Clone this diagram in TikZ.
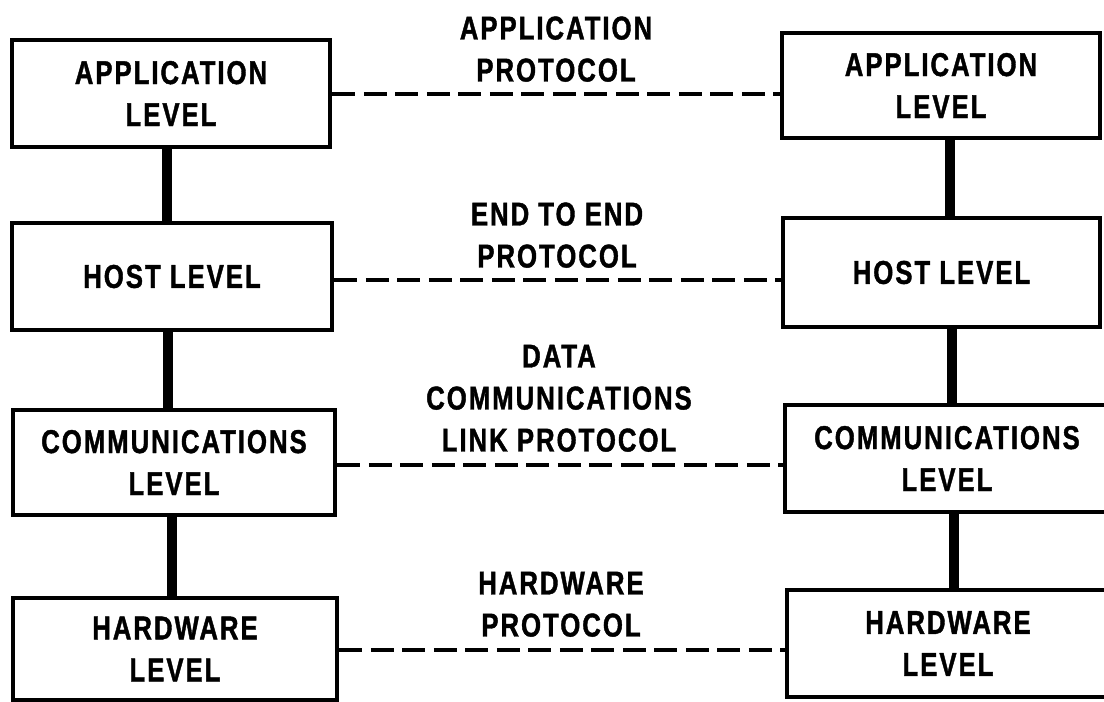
\documentclass[tikz,border=0pt]{standalone}
\usepackage{fontspec}
\newfontfamily\lblfont{Liberation Sans}[FakeStretch=0.78,LetterSpace=6,FakeBold=1.2]
\usetikzlibrary{calc}

\tikzset{
  levelbox/.style={draw=black, line width=4.5pt, fill=white, inner sep=0pt,
    align=center, font=\lblfont\bfseries\fontsize{33}{42}\selectfont},
  protolabel/.style={inner sep=0pt, align=center, anchor=south,
    font=\lblfont\bfseries\fontsize{33}{42}\selectfont},
  stack/.style={line width=10pt},
  peer/.style={line width=4pt, dash pattern=on 23pt off 8.5pt}
}

\begin{document}
\begin{tikzpicture}[x=1pt, y=-1pt]
  \useasboundingbox[fill=white] (0,0) rectangle (1104,702);

  % left protocol stack
  \node[levelbox, minimum width=318, minimum height=107] (L1) at (171,93.5) {APPLICATION\\LEVEL};
  \node[levelbox, minimum width=320, minimum height=107] (L2) at (172,276.5) {HOST LEVEL};
  \node[levelbox, minimum width=322, minimum height=105] (L3) at (174,462.5) {COMMUNICATIONS\\LEVEL};
  \node[levelbox, minimum width=324, minimum height=102] (L4) at (175,649) {HARDWARE\\LEVEL};

  % right protocol stack
  \node[levelbox, minimum width=318, minimum height=105] (R1) at (941,85.5) {APPLICATION\\LEVEL};
  \node[levelbox, minimum width=317, minimum height=109] (R2) at (941.5,272.5) {HOST LEVEL};
  \node[levelbox, minimum width=324, minimum height=107] (R3) at (947,458.5) {COMMUNICATIONS\\LEVEL};
  \node[levelbox, minimum width=322, minimum height=107] (R4) at (948,643.5) {HARDWARE\\LEVEL};

  % vertical links within each stack
  \draw[stack] (L1.south -| 167,0) -- (L2.north -| 167,0);
  \draw[stack] (L2.south -| 168,0) -- (L3.north -| 168,0);
  \draw[stack] (L3.south -| 172,0) -- (L4.north -| 172,0);
  \draw[stack] (R1.south -| 950,0) -- (R2.north -| 950,0);
  \draw[stack] (R2.south -| 952,0) -- (R3.north -| 952,0);
  \draw[stack] (R3.south -| 954,0) -- (R4.north -| 954,0);

  % peer protocols between the stacks
  \draw[peer] (L1.east |- 0,94)  -- (R1.west |- 0,94);
  \draw[peer] (L2.east |- 0,280) -- (R2.west |- 0,280);
  \draw[peer] (L3.east |- 0,465) -- (R3.west |- 0,465);
  \draw[peer] (L4.east |- 0,650) -- (R4.west |- 0,650);

  \node[protolabel] (P1) at (556,82)  {APPLICATION\\PROTOCOL};
  \node[protolabel] (P2) at (557,268) {END TO END\\PROTOCOL};
  \node[protolabel] (P3) at (559,452) {DATA\\COMMUNICATIONS\\LINK PROTOCOL};
  \node[protolabel] (P4) at (561,637) {HARDWARE\\PROTOCOL};
\end{tikzpicture}
\end{document}
